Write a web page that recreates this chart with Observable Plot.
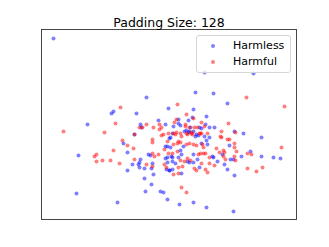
<!DOCTYPE html>
<html>
<head>
<meta charset="utf-8">
<script src="https://cdn.jsdelivr.net/npm/d3@7"></script>
<script src="https://cdn.jsdelivr.net/npm/@observablehq/plot@0.6"></script>
<style>
  html, body { margin: 0; padding: 0; background: #fff; }
  #wrap { position: relative; width: 329px; height: 247px; font-family: "DejaVu Sans", sans-serif; }
  #legend { position: absolute; left: 196px; top: 35px; width: 93px; height: 36px;
    border: 1px solid #d6d6d6; border-radius: 3px; background: rgba(255,255,255,0.8); font-size: 11px; }
  .row { position: absolute; left: 0; height: 14px; line-height: 14px; }
  .dot { position: absolute; left: 14px; top: 5px; width: 4px; height: 4px; border-radius: 50%; }
  .lab { position: absolute; left: 36px; top: 0; white-space: nowrap; color: #000; }
</style>
</head>
<body>
<div id="wrap"></div>
<script>
const title = "Padding Size: 128";
const seriesNames = ["Harmless", "Harmful"];
const seriesColors = ["#0000ff", "#ff0000"];

// Harmless (blue) points: [x, y] (y grows downward in the source image)
const harmless = [
  [53,38],[146,97],[113,111],[111,113],[136,113],[168,108],[87,124],[140,124],[165,124],
  [204,72],[253,73],[195,92],[213,93],[227,103],[193,109],[206,116],[178,119],[192,117],
  [188,120],[178,123],[205,124],[209,127],[214,127],[201,128],[234,131],[243,133],[261,137],
  [209,137],[206,140],[180,125],[173,126],[190,127],[184,131],[189,131],[193,131],[195,136],
  [169,138],[141,127],[134,134],[123,143],[127,152],[78,155],[139,162],[140,159],[132,164],
  [138,164],[139,167],[144,168],[151,168],[152,163],[148,154],[150,155],[127,170],[153,174],
  [144,178],[151,184],[160,191],[163,192],[145,191],[76,193],[117,202],[167,199],[165,158],
  [167,162],[169,170],[167,146],[199,127],[170,137],[172,133],[186,130],[188,132],[196,134],
  [198,135],[204,136],[165,146],[170,147],[201,143],[207,144],[229,145],[250,151],[241,156],
  [261,156],[273,157],[280,158],[230,159],[233,159],[217,161],[212,156],[213,157],[197,159],
  [193,154],[187,161],[189,162],[193,162],[199,167],[224,164],[227,169],[234,175],[175,163],
  [172,161],[167,157],[171,156],[172,157],[178,157],[180,150],[181,154],[172,169],[169,170],
  [166,169],[181,173],[179,204],[193,202],[206,207],[233,211],[222,154],[158,120],[183,146]
];

// Harmful (red) points
const harmful = [
  [120,107],[115,123],[146,124],[159,124],[246,97],[177,104],[284,106],[186,114],[176,119],
  [193,118],[174,122],[201,122],[228,123],[185,124],[201,133],[221,131],[235,132],[227,139],
  [221,137],[153,127],[163,134],[161,135],[173,133],[180,133],[191,133],[199,133],[152,139],
  [63,131],[104,132],[139,127],[142,127],[159,129],[161,127],[168,133],[134,134],[122,140],
  [127,145],[133,148],[113,150],[96,154],[94,156],[96,161],[102,160],[110,160],[119,163],
  [134,159],[146,164],[152,166],[158,154],[152,153],[154,156],[152,142],[164,164],[166,167],
  [164,149],[185,126],[189,127],[194,127],[197,127],[204,126],[176,132],[175,134],[181,136],
  [186,133],[187,134],[191,132],[192,134],[200,133],[207,133],[220,136],[229,139],[178,141],
  [180,142],[177,143],[167,141],[173,144],[186,144],[189,143],[193,144],[196,145],[202,144],
  [203,147],[216,148],[219,152],[223,150],[224,152],[223,156],[234,143],[234,147],[236,151],
  [281,147],[247,153],[251,154],[234,156],[235,160],[225,159],[209,157],[209,163],[203,153],
  [205,153],[198,154],[200,153],[187,158],[190,160],[184,161],[194,168],[196,170],[201,163],
  [205,169],[207,172],[214,165],[247,168],[256,171],[262,167],[180,160],[182,166],[178,167],
  [168,153],[172,153],[177,151],[173,174],[178,173],[181,187],[186,192]
];

const data = [
  ...harmless.map(([x, y]) => ({x, y, s: seriesNames[0]})),
  ...harmful.map(([x, y]) => ({x, y, s: seriesNames[1]}))
];

const chart = Plot.plot({
  width: 329,
  height: 247,
  marginLeft: 41,
  marginRight: 33,
  marginTop: 29,
  marginBottom: 28,
  style: {fontFamily: "DejaVu Sans, sans-serif", background: "#fff", overflow: "visible"},
  x: {domain: [41, 296], axis: null},
  y: {domain: [29, 219], reverse: true, axis: null},
  color: {domain: seriesNames, range: seriesColors},
  marks: [
    Plot.dot(data, {x: "x", y: "y", fill: "s", r: 2, fillOpacity: 0.5, stroke: null}),
    Plot.frame({stroke: "#333", strokeWidth: 0.9}),
    Plot.text([title], {text: d => d, frameAnchor: "top", dy: -11, fontSize: 12.5, fill: "#000"})
  ]
});

const wrap = document.getElementById("wrap");
wrap.appendChild(chart);

const legend = document.createElement("div");
legend.id = "legend";
seriesNames.forEach((name, i) => {
  const row = document.createElement("div");
  row.className = "row";
  row.style.top = (3 + i * 16) + "px";
  row.style.width = "100%";
  const dot = document.createElement("div");
  dot.className = "dot";
  dot.style.background = seriesColors[i];
  dot.style.opacity = 0.5;
  const lab = document.createElement("div");
  lab.className = "lab";
  lab.textContent = name;
  row.appendChild(dot);
  row.appendChild(lab);
  legend.appendChild(row);
});
wrap.appendChild(legend);
</script>
</body>
</html>
